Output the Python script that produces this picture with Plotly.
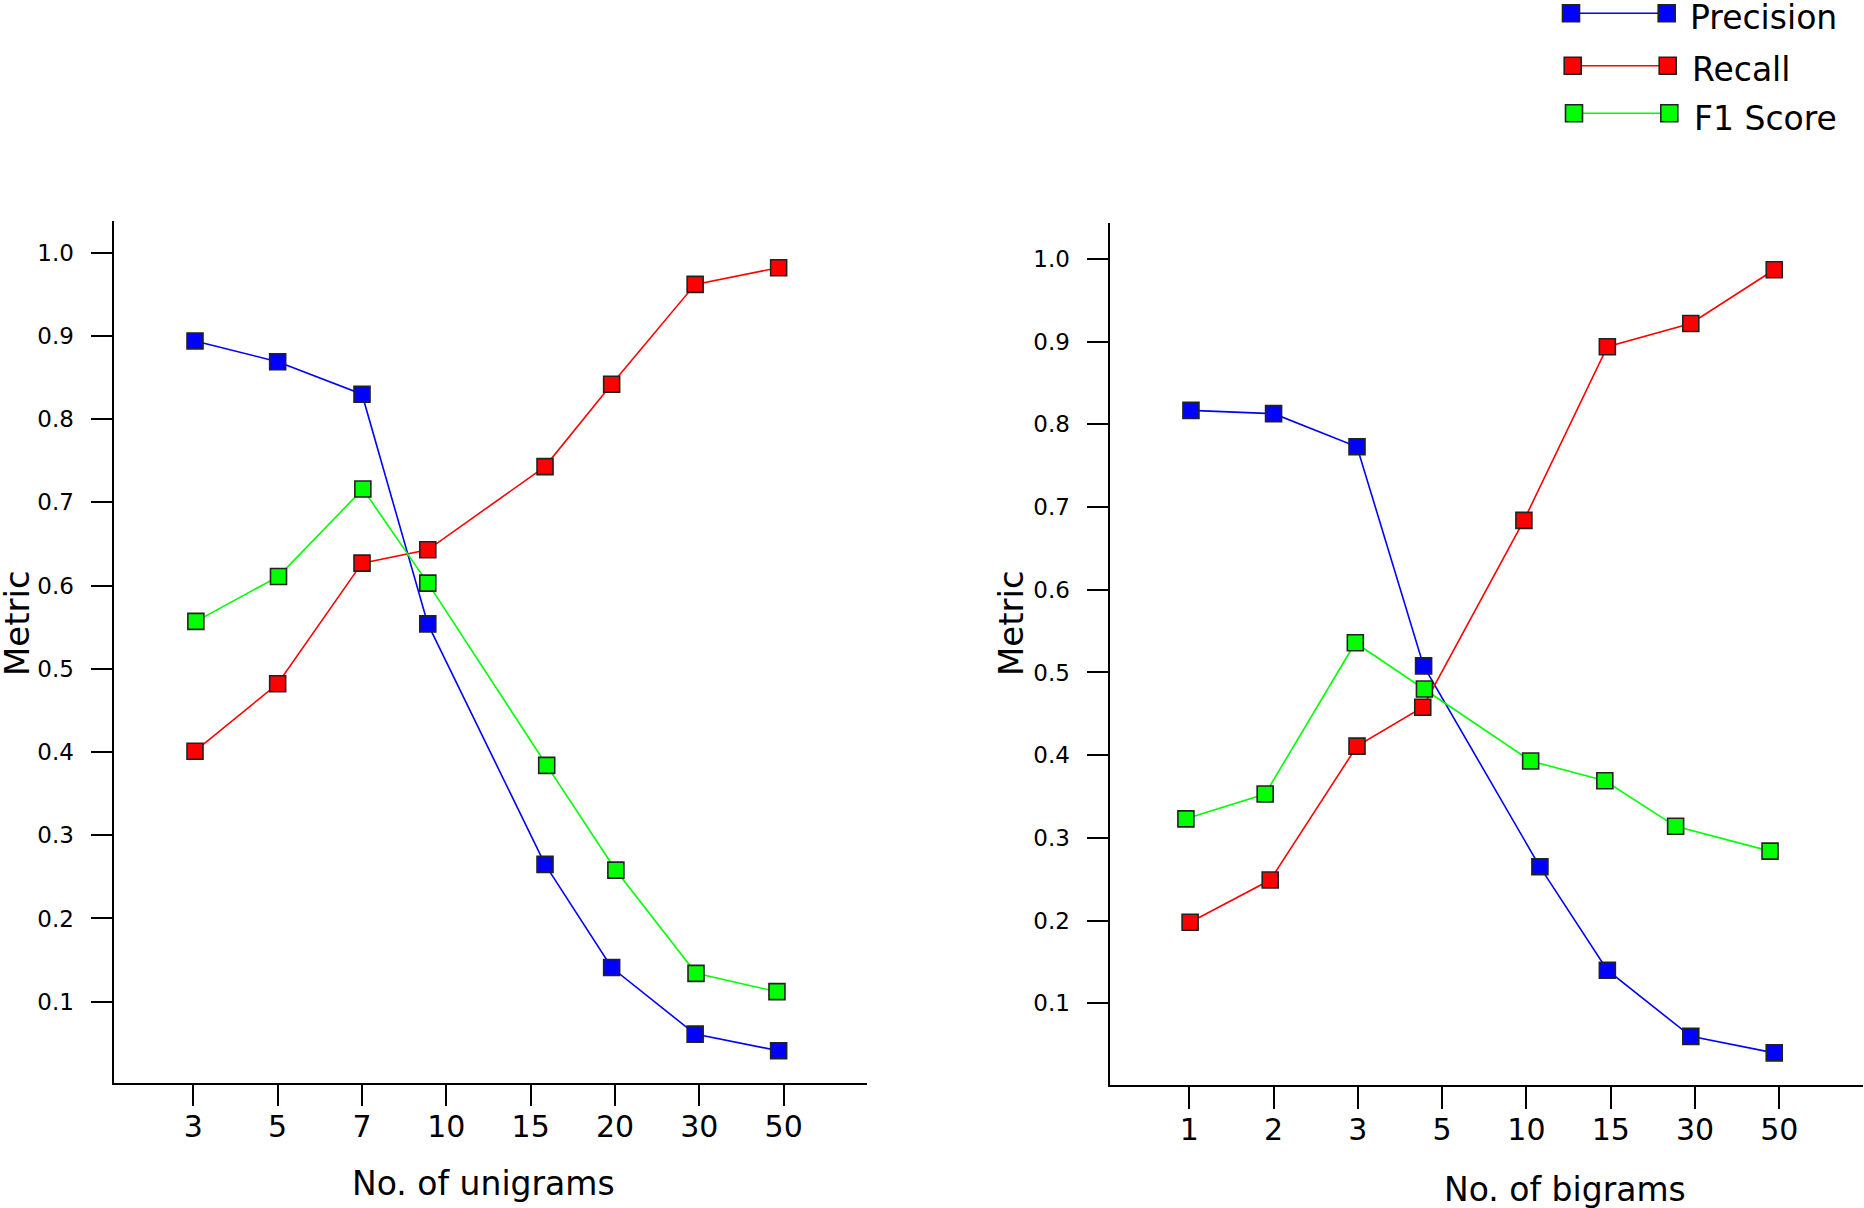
import plotly.graph_objects as go

W, H = 1864, 1208
FONT = "DejaVu Sans"

# ---------------- data ----------------
uni_ticks = ["3", "5", "7", "10", "15", "20", "30", "50"]
bi_ticks = ["1", "2", "3", "5", "10", "15", "30", "50"]
tick_pos = [1, 2, 3, 4, 5, 6, 7, 8]

uni_prec_x = [1.02, 2.00, 3.00, 3.78, 5.17, 5.96, 6.95, 7.94]
uni_prec = [0.894, 0.869, 0.830, 0.554, 0.265, 0.141, 0.061, 0.041]
uni_rec_x = [1.02, 2.00, 3.00, 3.78, 5.17, 5.96, 6.95, 7.94]
uni_rec = [0.401, 0.482, 0.627, 0.643, 0.743, 0.842, 0.962, 0.982]
uni_f1_x = [1.03, 2.01, 3.01, 3.78, 5.19, 6.01, 6.96, 7.92]
uni_f1 = [0.557, 0.611, 0.716, 0.603, 0.384, 0.258, 0.134, 0.112]

bi_prec_x = [1.02, 2.00, 2.99, 3.78, 5.16, 5.96, 6.95, 7.94]
bi_prec = [0.817, 0.813, 0.773, 0.508, 0.265, 0.140, 0.060, 0.040]
bi_rec_x = [1.01, 1.96, 2.99, 3.77, 4.97, 5.96, 6.95, 7.94]
bi_rec = [0.198, 0.249, 0.411, 0.458, 0.684, 0.894, 0.922, 0.987]
bi_f1_x = [0.96, 1.90, 2.97, 3.79, 5.05, 5.93, 6.77, 7.89]
bi_f1 = [0.323, 0.353, 0.536, 0.480, 0.393, 0.369, 0.314, 0.284]

y_ticks = [0.1, 0.2, 0.3, 0.4, 0.5, 0.6, 0.7, 0.8, 0.9, 1.0]
y_labels = ["0.1", "0.2", "0.3", "0.4", "0.5", "0.6", "0.7", "0.8", "0.9", "1.0"]

series_names = ["Precision", "Recall", "F1 Score"]
series_colors = ["#0000ff", "#ff0000", "#00ff00"]


def px(x):
    return x / W


def py(y):
    return 1 - y / H


fig = go.Figure()

panels = [
    ("x", "y", [(uni_prec_x, uni_prec), (uni_rec_x, uni_rec), (uni_f1_x, uni_f1)]),
    ("x2", "y2", [(bi_prec_x, bi_prec), (bi_rec_x, bi_rec), (bi_f1_x, bi_f1)]),
]
for xa, ya, sers in panels:
    for (xs, ys), name, col in zip(sers, series_names, series_colors):
        fig.add_trace(go.Scatter(
            x=xs, y=ys, xaxis=xa, yaxis=ya, name=name, showlegend=False,
            mode="lines+markers",
            line=dict(color=col, width=1.6),
            marker=dict(symbol="square", size=16, color=col,
                        line=dict(color="#222222", width=1.6)),
            cliponaxis=False,
        ))

axis_common = dict(
    showgrid=False, zeroline=False, showline=True, linecolor="black",
    linewidth=1.5, ticks="outside", ticklen=22, tickwidth=1.5,
    tickcolor="black", automargin=False,
)

fig.update_layout(
    width=W, height=H,
    margin=dict(l=0, r=0, t=0, b=0),
    paper_bgcolor="white", plot_bgcolor="white",
    font=dict(family=FONT, color="black"),
    showlegend=False,
    xaxis=dict(domain=[px(114.3), px(866.7)], range=[0.063, 8.984], anchor="y",
               tickvals=tick_pos, ticktext=uni_ticks,
               tickfont=dict(size=30, family=FONT), ticklabelstandoff=-5,
               **axis_common),
    yaxis=dict(domain=[py(1082.7), py(220.7)], range=[0.0026, 1.0385], anchor="x",
               tickvals=y_ticks, ticktext=y_labels,
               tickfont=dict(size=23, family=FONT), ticklabelstandoff=12,
               **axis_common),
    xaxis2=dict(domain=[px(1110.3), px(1863.0)], range=[0.063, 8.993], anchor="y2",
                tickvals=tick_pos, ticktext=bi_ticks,
                tickfont=dict(size=30, family=FONT), ticklabelstandoff=-5,
                **axis_common),
    yaxis2=dict(domain=[py(1085.3), py(223.3)], range=[0.0008, 1.0432], anchor="x2",
                tickvals=y_ticks, ticktext=y_labels,
                tickfont=dict(size=23, family=FONT), ticklabelstandoff=12,
                **axis_common),
)

annotations = [
    dict(text="Metric", x=px(17), y=py(623), textangle=-90, font=dict(size=34)),
    dict(text="Metric", x=px(1011), y=py(623), textangle=-90, font=dict(size=34)),
    dict(text="No. of unigrams", x=px(484), y=py(1183), font=dict(size=33)),
    dict(text="No. of bigrams", x=px(1565), y=py(1189), font=dict(size=33)),
]

# legend (drawn as layout shapes + text, top right)
legend_rows = [
    (1571.0, 1666.7, 13.3, 1688.0, 17),
    (1572.7, 1667.7, 65.7, 1689.5, 69),
    (1574.0, 1669.3, 113.3, 1691.5, 118),
]
shapes = []
half = 8.5
for (mx1, mx2, my, tx, ty), name, col in zip(legend_rows, series_names, series_colors):
    shapes.append(dict(type="line", xref="paper", yref="paper",
                       x0=px(mx1), x1=px(mx2), y0=py(my), y1=py(my),
                       line=dict(color=col, width=1.6)))
    for mx in (mx1, mx2):
        shapes.append(dict(type="rect", xref="paper", yref="paper",
                           x0=px(mx - half), x1=px(mx + half),
                           y0=py(my + half), y1=py(my - half),
                           fillcolor=col, line=dict(color="#222222", width=1.6)))
    annotations.append(dict(text=name, x=px(tx), y=py(ty), xanchor="left",
                            font=dict(size=33)))

for a in annotations:
    a.setdefault("xref", "paper")
    a.setdefault("yref", "paper")
    a.setdefault("showarrow", False)
    a.setdefault("xanchor", "center")
    a.setdefault("yanchor", "middle")
    a["font"] = dict(family=FONT, color="black", **a["font"])

fig.update_layout(annotations=annotations, shapes=shapes)

fig.write_html("out.html")
